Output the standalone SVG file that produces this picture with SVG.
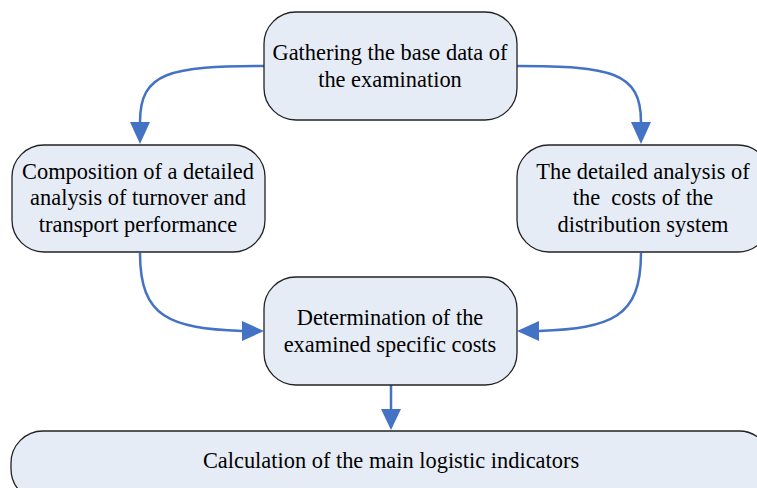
<svg xmlns="http://www.w3.org/2000/svg" width="757" height="488" viewBox="0 0 757 488">
<defs>
<style>
.box{fill:#E6ECF6;stroke:#222;stroke-width:1.3}
.t{font-family:"Liberation Serif","Times New Roman",serif;font-size:22.4px;fill:#000;text-anchor:middle}
.c{fill:none;stroke:#4472C4;stroke-width:2.5}
.hd{fill:#4472C4}
</style>
</defs>
<g id="connectors">
<path class="c" d="M264,66 C170,66 140,72 140,122"/>
<path class="hd" d="M130,122 L150,122 L140,144 Z"/>
<path class="c" d="M517,66 C611,66 641,72 641,122"/>
<path class="hd" d="M631,122 L651,122 L641,144 Z"/>
<path class="c" d="M140,253 C140,318 170,328 242,331"/>
<path class="hd" d="M242,321 L242,341 L264,331 Z"/>
<path class="c" d="M641,253 C641,318 611,328 539,331"/>
<path class="hd" d="M539,321 L539,341 L517,331 Z"/>
<path class="c" d="M391,385 L391,409"/>
<path class="hd" d="M381,409 L401,409 L391,430 Z"/>
</g>
<g id="n1">
<rect class="box" x="264" y="12" width="253" height="108" rx="32"/>
<text class="t" x="390" y="60">Gathering the base data of</text>
<text class="t" x="390" y="87">the examination</text>
</g>
<g id="n2">
<rect class="box" x="12" y="145" width="253" height="107" rx="32"/>
<text class="t" x="138" y="179">Composition of a detailed</text>
<text class="t" x="138" y="205">analysis of turnover and</text>
<text class="t" x="138" y="232">transport performance</text>
</g>
<g id="n3">
<rect class="box" x="517" y="145" width="253" height="107" rx="32"/>
<text class="t" x="643" y="179">The detailed analysis of</text>
<text class="t" x="643" y="205" xml:space="preserve">the  costs of the</text>
<text class="t" x="643" y="232">distribution system</text>
</g>
<g id="n4">
<rect class="box" x="264" y="277" width="253" height="108" rx="32"/>
<text class="t" x="390" y="325">Determination of the</text>
<text class="t" x="390" y="352">examined specific costs</text>
</g>
<g id="n5">
<rect class="box" x="11" y="431" width="760" height="70" rx="32"/>
<text class="t" x="391" y="468">Calculation of the main logistic indicators</text>
</g>
</svg>
